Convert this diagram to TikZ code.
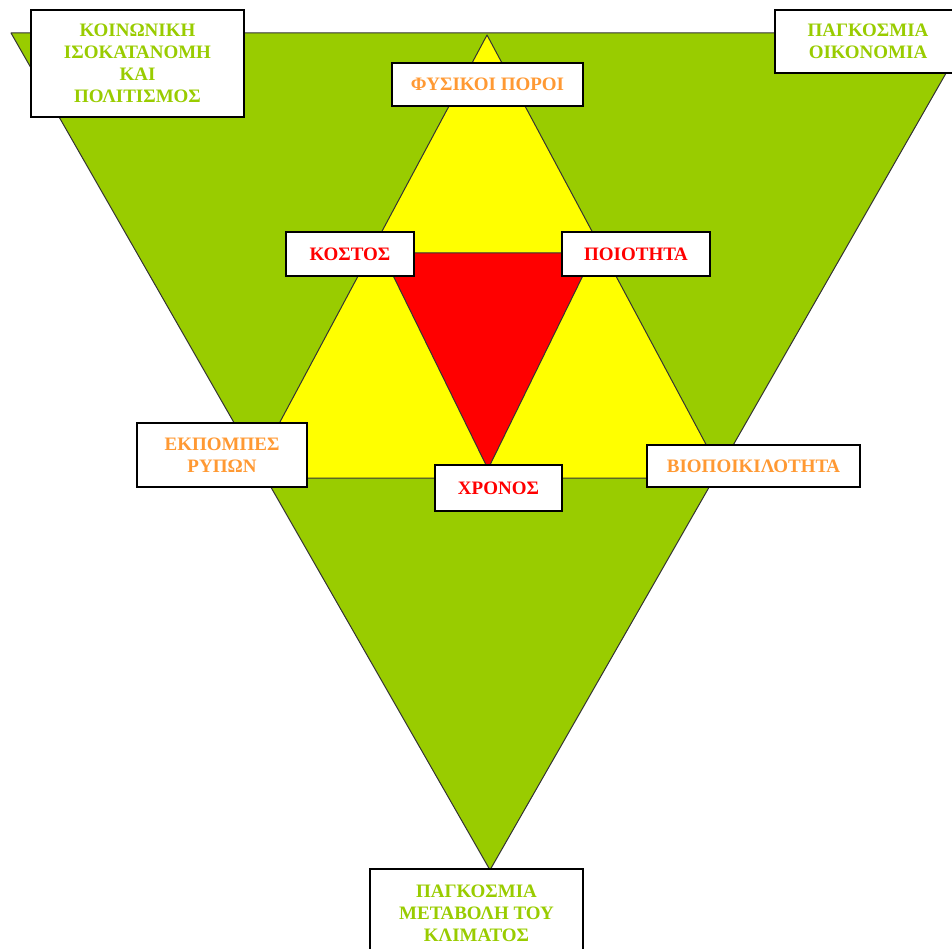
\documentclass[tikz,border=0pt]{standalone}
\usepackage{fontspec}
\setmainfont{Liberation Serif}
\definecolor{leaf}{HTML}{99CC00}
\definecolor{sun}{HTML}{FFFF00}
\definecolor{fire}{HTML}{FF0000}
\definecolor{amber}{HTML}{FF9933}
\begin{document}
\begin{tikzpicture}[x=1pt,y=-1pt,
  box/.style={draw,fill=white,line width=1.2pt,inner sep=0pt,align=center,
    font=\fontsize{19}{22}\selectfont\bfseries},
  tri/.style={draw=black!80,line width=1pt,line join=round}]
  \useasboundingbox (0,0) rectangle (952,949);
  \clip (0,0) rectangle (952,949);
  % corners of the three triangles
  \coordinate (g1) at (11,33);
  \coordinate (g2) at (969,33);
  \coordinate (g3) at (490,870);
  \coordinate (y1) at (487,35);
  \coordinate (y2) at (250,478);
  \coordinate (y3) at (724,478);
  \coordinate (r1) at (382,253);
  \coordinate (r2) at (594,253);
  \coordinate (r3) at (488,469);
  \filldraw[fill=leaf,tri] (g1) -- (g2) -- (g3) -- cycle;
  \filldraw[fill=sun,tri] (y1) -- (y2) -- (y3) -- cycle;
  \filldraw[fill=fire,tri] (r1) -- (r2) -- (r3) -- cycle;
  % labels
  \node[box,text=leaf,minimum width=213pt,minimum height=107pt] (a) at (137.5,63.5)
    {ΚΟΙΝΩΝΙΚΗ\\ΙΣΟΚΑΤΑΝΟΜΗ\\ΚΑΙ\\ΠΟΛΙΤΙΣΜΟΣ};
  \node[box,text=leaf,minimum width=186pt,minimum height=63pt] (b) at (868,41.5)
    {ΠΑΓΚΟΣΜΙΑ\\ΟΙΚΟΝΟΜΙΑ};
  \node[box,text=amber,minimum width=191pt,minimum height=43pt] (c) at (487.5,84.5)
    {ΦΥΣΙΚΟΙ ΠΟΡΟΙ};
  \node[box,text=fire,minimum width=128pt,minimum height=44pt] (d) at (350,254)
    {ΚΟΣΤΟΣ};
  \node[box,text=fire,minimum width=148pt,minimum height=44pt] (e) at (636,254)
    {ΠΟΙΟΤΗΤΑ};
  \node[box,text=amber,minimum width=170pt,minimum height=64pt] (f) at (222,455)
    {ΕΚΠΟΜΠΕΣ\\ΡΥΠΩΝ};
  \node[box,text=fire,minimum width=127pt,minimum height=46pt] (g) at (498.5,488)
    {ΧΡΟΝΟΣ};
  \node[box,text=amber,minimum width=213pt,minimum height=42pt] (h) at (753.5,466)
    {ΒΙΟΠΟΙΚΙΛΟΤΗΤΑ};
  \node[box,text=leaf,minimum width=213pt,minimum height=88pt] (i) at (476.5,913)
    {ΠΑΓΚΟΣΜΙΑ\\ΜΕΤΑΒΟΛΗ ΤΟΥ\\ΚΛΙΜΑΤΟΣ};
\end{tikzpicture}
\end{document}
